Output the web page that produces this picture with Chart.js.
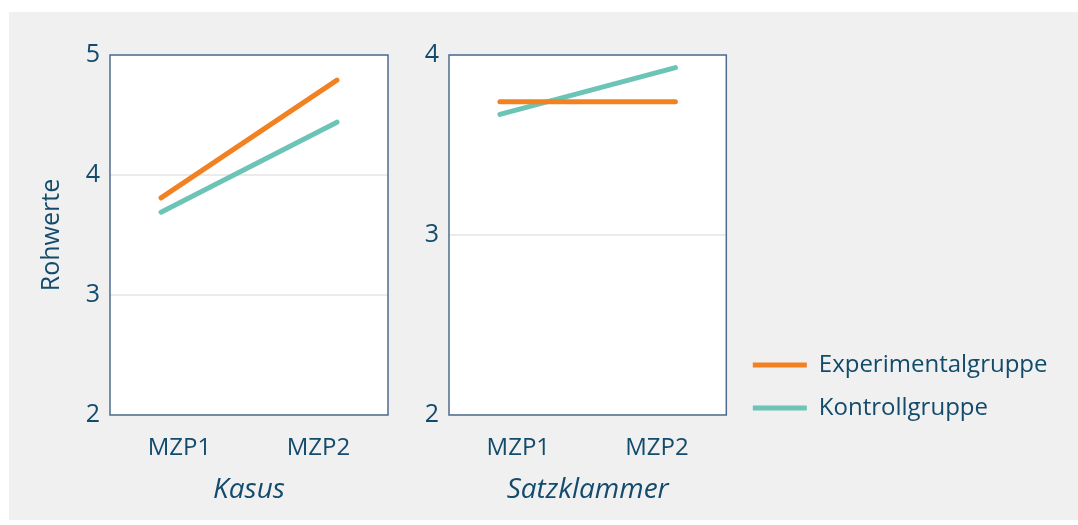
<!DOCTYPE html>
<html>
<head>
<meta charset="utf-8">
<script src="https://cdn.jsdelivr.net/npm/chart.js@4.4.0/dist/chart.umd.min.js"></script>
<style>
  html, body { margin: 0; padding: 0; background: #ffffff; }
  #panel { position: absolute; left: 9px; top: 12px; width: 1069px; height: 508px; background: #f0f0f0; }
  #c1 { position: absolute; left: 0; top: 0; }
  #c2 { position: absolute; left: 391px; top: 0; }
</style>
</head>
<body>
<div id="panel">
  <canvas id="c1" width="391" height="508"></canvas>
  <canvas id="c2" width="678" height="508"></canvas>
</div>
<script>
const categories = ['MZP1', 'MZP2'];
const seriesNames = ['Experimentalgruppe', 'Kontrollgruppe'];
const kasusExp = [3.81, 4.79];
const kasusKon = [3.69, 4.44];
const satzExp = [3.74, 3.74];
const satzKon = [3.67, 3.93];
const kasusTicks = [2, 3, 4, 5];
const satzTicks = [2, 3, 4];

const textColor = '#124b6c';
const frameColor = '#4d6b8f';
const orange = '#f28121';
const teal = '#6cc4b6';
const fontFamily = "'Open Sans', sans-serif";

Chart.defaults.font.family = fontFamily;
Chart.defaults.color = textColor;

// white plot area with a thin frame all round
const framePlugin = {
    id: 'frame',
    beforeDraw(chart) {
        const a = chart.chartArea;
        const ctx = chart.ctx;
        ctx.save();
        ctx.fillStyle = '#ffffff';
        ctx.fillRect(a.left, a.top, a.right - a.left, a.bottom - a.top);
        ctx.restore();
    },
    afterDraw(chart) {
        const a = chart.chartArea;
        const ctx = chart.ctx;
        ctx.save();
        ctx.strokeStyle = frameColor;
        ctx.lineWidth = 1.5;
        ctx.strokeRect(a.left, a.top, a.right - a.left, a.bottom - a.top);
        ctx.restore();
    }
};

// small nudge so the legend sits a bit further from the plot
const legendNudge = {
    id: 'legendNudge',
    afterLayout(chart) {
        if (chart.legend) {
            chart.legend.left += 7.5;
            chart.legend.right += 7.5;
        }
    }
};

function toPoints(values) {
    return values.map((v, i) => ({ x: i, y: v }));
}

function makeDatasets(exp, kon) {
    return [
        { label: seriesNames[0], data: toPoints(exp), borderColor: orange, backgroundColor: orange },
        { label: seriesNames[1], data: toPoints(kon), borderColor: teal, backgroundColor: teal }
    ].map(d => Object.assign(d, { borderWidth: 5, borderCapStyle: 'round', pointRadius: 0, tension: 0 }));
}

function makeScales(title, ticks, yTitle, yWidth) {
    return {
        // positions the points, not shown
        x: {
            type: 'linear',
            display: false,
            min: -0.29,
            max: 1.29
        },
        // the visible category labels
        xLab: {
            type: 'category',
            position: 'bottom',
            labels: categories,
            offset: true,
            afterFit: (s) => { s.height = 105; },
            ticks: { font: { size: 24 }, padding: 11, maxRotation: 0 },
            grid: { display: false },
            border: { display: false },
            title: { display: true, text: title, font: { size: 28, style: 'italic' }, padding: { top: 0, bottom: 13 } }
        },
        y: {
            min: ticks[0],
            max: ticks[ticks.length - 1],
            afterBuildTicks: (s) => { s.ticks = ticks.map(v => ({ value: v })); },
            afterFit: (s) => { s.width = yWidth; },
            ticks: { font: { size: 25 }, padding: 10 },
            grid: { color: '#ebebeb', lineWidth: 2, drawTicks: false },
            border: { display: false },
            title: { display: !!yTitle, text: yTitle, font: { size: 25 }, padding: { top: 28, bottom: 0 } }
        }
    };
}

new Chart(document.getElementById('c1'), {
    type: 'line',
    data: { datasets: makeDatasets(kasusExp, kasusKon) },
    options: {
        responsive: false,
        animation: false,
        layout: { padding: { top: 43, right: 12, left: 0, bottom: 0 } },
        scales: makeScales('Kasus', kasusTicks, 'Rohwerte', 101),
        plugins: { legend: { display: false }, tooltip: { enabled: false } }
    },
    plugins: [framePlugin]
});

new Chart(document.getElementById('c2'), {
    type: 'line',
    data: { datasets: makeDatasets(satzExp, satzKon) },
    options: {
        responsive: false,
        animation: false,
        layout: { padding: { top: 43, right: 28, left: 0, bottom: 0 } },
        scales: makeScales('Satzklammer', satzTicks, '', 49),
        plugins: {
            legend: {
                position: 'right',
                align: 'start',
                fullSize: true,
                maxWidth: 400,
                title: { display: true, text: '', padding: { top: 264.6, bottom: 0 }, font: { size: 12 } },
                labels: {
                    usePointStyle: true,
                    pointStyle: 'line',
                    pointStyleWidth: 54,
                    padding: 19,
                    font: { size: 24 },
                    color: textColor
                }
            },
            tooltip: { enabled: false }
        }
    },
    plugins: [framePlugin, legendNudge]
});
</script>
</body>
</html>
